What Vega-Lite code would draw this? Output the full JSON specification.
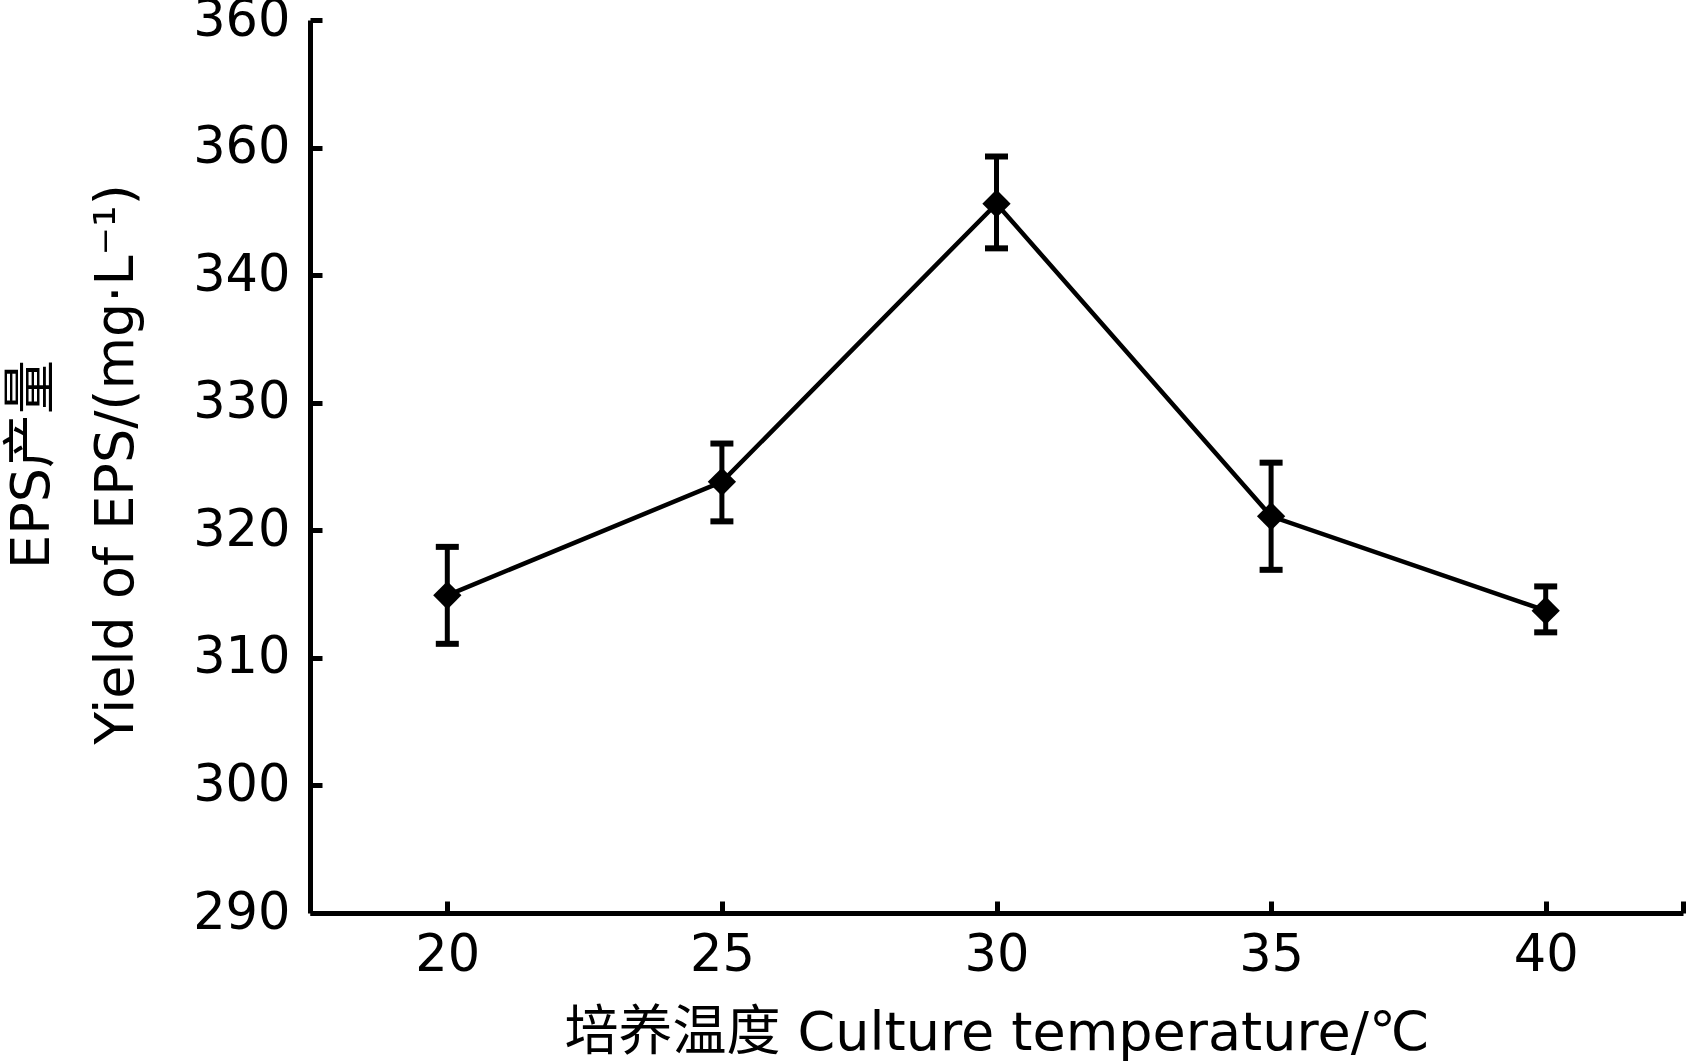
{
  "$schema": "https://vega.github.io/schema/vega-lite/v6.json",
  "width": 1373,
  "height": 893,
  "autosize": "none",
  "padding": {"left": 310, "top": 20, "right": 4, "bottom": 151},
  "background": "white",
  "config": {
    "view": {"stroke": null},
    "font": "DejaVu Sans",
    "axis": {
      "grid": false,
      "domainColor": "black",
      "domainWidth": 5,
      "tickColor": "black",
      "tickWidth": 5,
      "tickSize": -12,
      "labelColor": "black",
      "titleColor": "black",
      "labelFont": "DejaVu Sans",
      "titleFont": "DejaVu Sans, Noto Sans CJK SC",
      "labelFontSize": 51,
      "titleFontSize": 54,
      "titleFontWeight": "normal"
    }
  },
  "data": {
    "values": [
      {"t": 20, "y": 314.9, "lo": 311.1, "hi": 318.7},
      {"t": 25, "y": 323.8, "lo": 320.7, "hi": 326.8},
      {"t": 30, "y": 345.6, "lo": 342.1, "hi": 349.3},
      {"t": 35, "y": 321.1, "lo": 316.9, "hi": 325.3},
      {"t": 40, "y": 313.7, "lo": 312.0, "hi": 315.6}
    ]
  },
  "encoding": {
    "x": {
      "field": "t",
      "type": "quantitative",
      "scale": {"domain": [17.5, 42.5], "nice": false, "zero": false},
      "axis": {
        "values": [20, 25, 30, 35, 40, 42.5],
        "labelExpr": "datum.value == 42.5 ? '' : datum.label",
        "labelPadding": 29,
        "title": "培养温度 Culture temperature/℃",
        "titlePadding": 26
      }
    }
  },
  "layer": [
    {
      "mark": {"type": "rule", "color": "black", "strokeWidth": 5},
      "encoding": {
        "y": {"field": "lo", "type": "quantitative"},
        "y2": {"field": "hi"}
      }
    },
    {
      "mark": {"type": "tick", "orient": "horizontal", "color": "black", "opacity": 1, "size": 23, "thickness": 6},
      "encoding": {"y": {"field": "hi", "type": "quantitative"}}
    },
    {
      "mark": {"type": "tick", "orient": "horizontal", "color": "black", "opacity": 1, "size": 23, "thickness": 6},
      "encoding": {"y": {"field": "lo", "type": "quantitative"}}
    },
    {
      "mark": {"type": "line", "color": "black", "strokeWidth": 4.5},
      "encoding": {
        "y": {
          "field": "y",
          "type": "quantitative",
          "scale": {"domain": [290, 360], "nice": false, "zero": false},
          "axis": {
            "values": [290, 300, 310, 320, 330, 340, 350, 360],
            "labelExpr": "datum.value == 350 ? '360' : datum.label",
            "labelPadding": 32,
            "title": ["EPS产量", "Yield of EPS/(mg·L⁻¹)"],
            "titleLineHeight": 84,
            "titleX": -305,
            "titleY": 444,
            "titleAngle": -90,
            "titleAlign": "center",
            "titleBaseline": "top"
          }
        }
      }
    },
    {
      "mark": {"type": "point", "shape": "diamond", "filled": true, "color": "black", "opacity": 1, "size": 800},
      "encoding": {"y": {"field": "y", "type": "quantitative"}}
    }
  ]
}
